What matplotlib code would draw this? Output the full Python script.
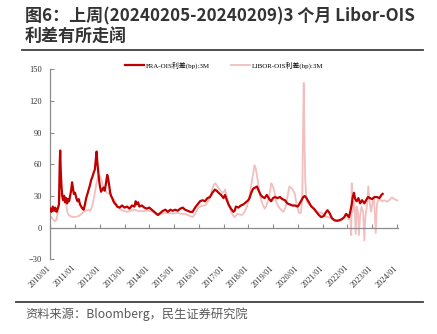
import numpy as np
import pandas as pd
import matplotlib
matplotlib.use("Agg")
import matplotlib.pyplot as plt
import matplotlib.dates as mdates
from matplotlib.lines import Line2D

# ── data (decimal years) ──────────────────────────────────────────────────────
fra_t = [2010.00, 2010.05, 2010.10, 2010.15, 2010.20, 2010.25, 2010.30, 2010.35,
         2010.38, 2010.40, 2010.42, 2010.45, 2010.48, 2010.52, 2010.56, 2010.60,
         2010.64, 2010.68, 2010.72, 2010.76, 2010.80, 2010.84, 2010.88, 2010.91,
         2010.95, 2011.00, 2011.05, 2011.10, 2011.15, 2011.20, 2011.25, 2011.30,
         2011.35, 2011.40, 2011.45, 2011.50, 2011.55, 2011.60, 2011.65, 2011.70,
         2011.75, 2011.80, 2011.84, 2011.87, 2011.90, 2011.93, 2011.97, 2012.00,
         2012.05, 2012.10, 2012.15, 2012.20, 2012.25, 2012.30, 2012.34, 2012.38,
         2012.42, 2012.46, 2012.50, 2012.55, 2012.60, 2012.65, 2012.70, 2012.80,
         2012.90, 2013.00, 2013.10, 2013.20, 2013.30, 2013.40, 2013.45, 2013.50,
         2013.55, 2013.60, 2013.70, 2013.80, 2013.90, 2014.00, 2014.10, 2014.20,
         2014.30, 2014.35, 2014.45, 2014.55, 2014.65, 2014.75, 2014.85, 2014.95,
         2015.05, 2015.15, 2015.25, 2015.35, 2015.45, 2015.55, 2015.65, 2015.75,
         2015.85, 2015.95, 2016.05, 2016.15, 2016.25, 2016.35, 2016.45, 2016.55,
         2016.65, 2016.72, 2016.80, 2016.90, 2017.00, 2017.06, 2017.12, 2017.20,
         2017.30, 2017.40, 2017.45, 2017.50, 2017.60, 2017.70, 2017.80, 2017.90,
         2018.00, 2018.05, 2018.12, 2018.20, 2018.28, 2018.35, 2018.42, 2018.50,
         2018.58, 2018.66, 2018.75, 2018.85, 2018.92, 2019.00, 2019.08, 2019.18,
         2019.28, 2019.38, 2019.48, 2019.58, 2019.68, 2019.78, 2019.88, 2020.00,
         2020.08, 2020.15, 2020.22, 2020.28, 2020.35, 2020.45, 2020.55, 2020.65,
         2020.75, 2020.85, 2020.95, 2021.05, 2021.12, 2021.20, 2021.28, 2021.38,
         2021.48, 2021.58, 2021.68, 2021.78, 2021.88, 2021.95, 2022.00, 2022.07,
         2022.12, 2022.18, 2022.22, 2022.27, 2022.32, 2022.38, 2022.45, 2022.52,
         2022.60, 2022.69, 2022.76, 2022.84, 2022.92, 2023.00, 2023.10, 2023.20,
         2023.30, 2023.38, 2023.43]
fra_v = [18, 15, 20, 16, 19, 15, 18, 22,
         60, 73, 55, 40, 30, 26, 30, 24,
         28, 23, 27, 25, 30, 35, 43, 38,
         32, 33, 28, 25, 27, 22, 20, 18,
         17, 22, 28, 32, 36, 40, 45, 48,
         52, 55, 65, 72, 62, 55, 45, 40,
         34, 36, 38, 35, 42, 50, 46, 40,
         33, 30, 28, 25, 23, 22, 20, 19,
         21, 19, 20, 18, 21, 20, 25, 22,
         24, 20, 21, 19, 18, 19, 17, 15,
         13, 12, 14, 16, 17, 15, 17, 16,
         17, 16, 18, 19, 17, 16, 15, 15,
         19, 22, 25, 26, 25, 28, 29, 33,
         36, 35, 33, 31, 28, 31, 27, 22,
         18, 15, 16, 20, 19, 21, 22, 24,
         26, 28, 33, 37, 38, 39, 35, 31,
         29, 28, 31, 27, 25, 28, 29, 28,
         29, 27, 26, 23, 22, 21, 21, 20,
         23, 26, 29, 30, 28, 24, 20, 18,
         15, 12, 10, 11, 14, 16.5, 14, 9,
         7, 6.5, 7, 8, 10, 13, 12, 10,
         15, 22, 29, 33, 27, 25, 28, 23,
         26, 23, 26, 29, 28, 27, 29, 29,
         28, 31, 32]

libor_t = [2010.00, 2010.05, 2010.10, 2010.15, 2010.20, 2010.25, 2010.30, 2010.35,
           2010.40, 2010.45, 2010.50, 2010.55, 2010.60, 2010.65, 2010.70, 2010.75,
           2010.85, 2010.95, 2011.05, 2011.15, 2011.25, 2011.35, 2011.45, 2011.55,
           2011.62, 2011.70, 2011.78, 2011.85, 2011.92, 2011.97, 2012.02, 2012.08,
           2012.15, 2012.22, 2012.30, 2012.38, 2012.45, 2012.52, 2012.60, 2012.68,
           2012.75, 2012.85, 2012.95, 2013.10, 2013.25, 2013.40, 2013.55, 2013.70,
           2013.85, 2014.00, 2014.15, 2014.30, 2014.40, 2014.55, 2014.70, 2014.85,
           2015.00, 2015.15, 2015.30, 2015.45, 2015.55, 2015.65, 2015.75, 2015.85,
           2015.95, 2016.05, 2016.15, 2016.25, 2016.35, 2016.45, 2016.55, 2016.62,
           2016.67, 2016.75, 2016.85, 2016.95, 2017.02, 2017.06, 2017.12, 2017.20,
           2017.30, 2017.40, 2017.45, 2017.55, 2017.65, 2017.75, 2017.85, 2017.95,
           2018.03, 2018.12, 2018.20, 2018.25, 2018.30, 2018.36, 2018.42, 2018.50,
           2018.58, 2018.66, 2018.75, 2018.85, 2018.93, 2018.98, 2019.05, 2019.12,
           2019.22, 2019.32, 2019.42, 2019.50, 2019.58, 2019.66, 2019.72, 2019.80,
           2019.88, 2019.95, 2020.05, 2020.12, 2020.18, 2020.21, 2020.24, 2020.27,
           2020.30, 2020.36, 2020.45, 2020.55, 2020.65, 2020.75, 2020.85, 2020.95,
           2021.05, 2021.20, 2021.35, 2021.50, 2021.70, 2021.85, 2021.95, 2022.05,
           2022.12, 2022.16, 2022.18, 2022.21, 2022.26, 2022.30, 2022.34, 2022.38,
           2022.43, 2022.47, 2022.52, 2022.58, 2022.64, 2022.69, 2022.73, 2022.80,
           2022.85, 2022.90, 2022.96, 2023.02, 2023.08, 2023.15, 2023.20, 2023.27,
           2023.35, 2023.42, 2023.50, 2023.60, 2023.70, 2023.80, 2023.90, 2024.00,
           2024.10]
libor_v = [11, 10, 8, 7, 6, 8, 14, 22,
           30, 33, 32, 31, 28, 20, 14, 12,
           10.5, 10, 10.5, 11, 13, 15, 16, 17,
           16, 21, 30, 40, 47, 50, 48, 44,
           38, 35, 33, 32, 30, 28, 26, 22,
           19, 17, 16, 15, 16, 17, 16, 15.5,
           16, 16, 15, 12, 12.5, 13.5, 14, 13.5,
           13.5, 14, 13, 13, 12, 11, 10, 13,
           18, 20, 21, 21, 24, 28, 37, 41,
           42, 39, 36, 33, 34, 36, 31, 23,
           15, 11, 10, 13, 12.5, 12, 15, 20,
           28, 40, 52, 59, 56, 48, 39, 28,
           22, 18, 22, 30, 42, 40, 35, 25,
           20, 17, 15, 19, 29, 39, 38, 36,
           32, 22, 14, 14, 26, 86, 137, 86,
           45, 25, 22, 20, 18, 15.5, 14, 14.5,
           12, 10, 9, 7, 6.5, 9, 13, 8,
           10, -7, 42, 15, 25, 18, -6, 20,
           15, -7, 12, 20, 15, -12, 10, 22,
           39, 25, 15, 24, 28, -5, 22, 28,
           26, 25, 26, 24.6, 26, 28.7, 27, 26,
           25]

fra_label = "FRA-OIS利差(bp):3M"
libor_label = "LIBOR-OIS利差(bp):3M"
title = "图6：上周(20240205-20240209)3 个月 Libor-OIS\n利差有所走阔"
source = "资料来源：Bloomberg，民生证券研究院"


def to_dates(years):
    # decimal year -> timestamp
    years = np.asarray(years, dtype=float)
    return pd.Timestamp("2010-01-01") + pd.to_timedelta((years - 2010) * 365.25, unit="D")


SERIF = ["Liberation Serif", "Noto Sans CJK SC"]
SANS = ["Noto Sans CJK SC", "DejaVu Sans"]
plt.rcParams["font.family"] = SANS

fig = plt.figure(figsize=(4.37, 3.34), dpi=100)
ax = fig.add_axes([0.1151, 0.2234, 0.7957, 0.5695])

# ── series ────────────────────────────────────────────────────────────────────
ax.plot(to_dates(libor_t), libor_v, color="#F2BEBE", lw=1.3, label=libor_label, zorder=2)
ax.plot(to_dates(fra_t), fra_v, color="#C00000", lw=1.6, label=fra_label, zorder=3)

# ── axes ──────────────────────────────────────────────────────────────────────
ax.set_ylim(-30, 150)
ax.set_yticks(np.arange(-30, 151, 30))
ax.set_xlim(pd.Timestamp("2010-01-01"), pd.Timestamp("2024-01-20"))
ax.xaxis.set_major_locator(mdates.YearLocator())
ax.xaxis.set_major_formatter(mdates.DateFormatter("%Y/%m"))

for s in ("top", "right"):
    ax.spines[s].set_visible(False)
ax.spines["bottom"].set_position(("data", 0))
for s in ("left", "bottom"):
    ax.spines[s].set_color("#8c8c8c")
    ax.spines[s].set_linewidth(0.9)

ax.tick_params(axis="y", direction="in", length=3, width=0.8, color="#8c8c8c",
               labelsize=6, labelcolor="#333333", pad=6)
ax.tick_params(axis="x", direction="in", length=3, width=0.8, color="#8c8c8c",
               labelsize=6, labelcolor="#333333", pad=28)
for lbl in ax.get_yticklabels():
    lbl.set_family(SERIF)
for lbl in ax.get_xticklabels():
    lbl.set_family(SERIF)
    lbl.set_rotation(45)
    lbl.set_ha("right")
    lbl.set_va("center")
    lbl.set_rotation_mode("anchor")

h, l = ax.get_legend_handles_labels()
leg = ax.legend(h[::-1], l[::-1], loc="center", bbox_to_anchor=(0.5, 1.02),
                ncol=2, frameon=False, handlelength=2.7, columnspacing=3.0,
                handletextpad=0.3, prop={"family": SERIF, "size": 5})

# ── title, rules, source ──────────────────────────────────────────────────────
fig.text(25 / 437, 1 - 7 / 334, title, ha="left", va="top", fontsize=12.25,
         fontweight="bold", color="#333333", linespacing=1.1)
fig.add_artist(Line2D([22 / 437, 423 / 437], [1 - 49.5 / 334] * 2,
                      color="#404040", lw=1.3))
fig.add_artist(Line2D([16 / 437, 423 / 437], [1 - 301.7 / 334] * 2,
                      color="#404040", lw=1.3))
fig.text(25 / 437, 1 - 314 / 334, source, ha="left", va="center", fontsize=8.8,
         color="#595959")

fig.savefig("out.png", dpi=100)
